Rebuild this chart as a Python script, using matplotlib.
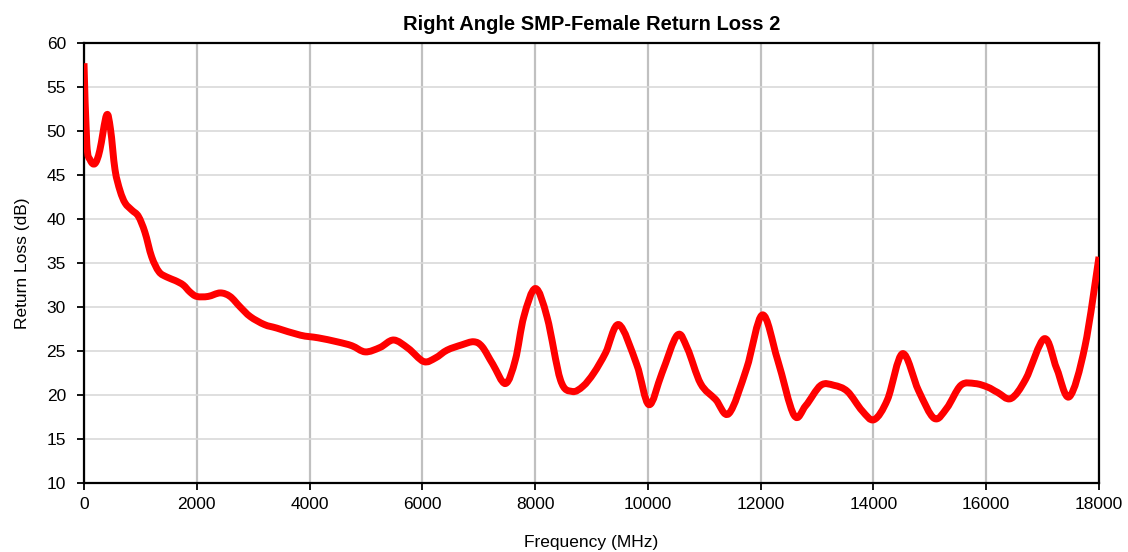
import matplotlib
matplotlib.use("Agg")
import matplotlib.pyplot as plt
from matplotlib.path import Path
from matplotlib.patches import PathPatch

plt.rcParams['font.family'] = ['Liberation Sans', 'DejaVu Sans']

title = "Right Angle SMP-Female Return Loss 2"
x_label = "Frequency (MHz)"
y_label = "Return Loss (dB)"

freq_mhz = [0, 50, 110, 195, 280, 400, 470, 550, 640, 730, 850,
            965, 1080, 1200, 1330, 1470, 1620, 1760, 1880, 2000, 2200, 2415, 2590, 2770,
            2950, 3200, 3420, 3835, 4150, 4486, 4750, 4988, 5250, 5491, 5750, 6024, 6230,
            6439, 6700, 6911, 7060, 7250, 7474, 7650, 7800, 8006, 8214,
            8450, 8657, 8850, 9041, 9250, 9485, 9800, 10018, 10250, 10521,
            10700, 10935, 11200, 11438, 11750, 12030, 12300,
            12592, 12800, 13066, 13300, 13540, 13800, 14012, 14250, 14516,
            14800, 15077, 15300, 15550, 15800, 16024, 16200, 16439, 16700, 17030,
            17250, 17474, 17750, 18000]
return_loss_db = [57.7, 48.5, 46.7, 46.3, 47.8, 51.8, 50.2,
                  45.6, 43.2, 41.8, 41.0, 40.3, 38.5, 35.7, 34.0, 33.4, 33.0, 32.5, 31.7,
                  31.2, 31.2, 31.6, 31.2, 30.0, 28.9, 28.0, 27.6, 26.8, 26.5, 26.05, 25.6,
                  24.9, 25.4, 26.25, 25.3, 23.8, 24.2, 25.1, 25.7, 26.05, 25.5, 23.5, 21.3,
                  24.0, 28.9, 32.1, 28.8, 21.7, 20.4, 21.0, 22.5, 24.8, 28.0,
                  23.5, 18.9, 22.5, 26.8, 25.3, 21.3, 19.5, 17.9, 23.0, 29.1, 24.0,
                  17.7, 18.8, 21.1, 21.1, 20.4, 18.2, 17.2, 19.5, 24.7, 20.5, 17.35,
                  18.5, 21.1, 21.3, 20.9, 20.3, 19.6, 21.8, 26.4, 23.0, 19.8, 25.5, 35.7]

x_ticks = list(range(0, 18001, 2000))
y_ticks = list(range(10, 61, 5))


def smooth_path(xs, ys, tension=1.0 / 6.0):
    """Excel-style smoothed line: cubic Bezier segments through the data points."""
    n = len(xs)
    verts = [(xs[0], ys[0])]
    codes = [Path.MOVETO]
    for i in range(n - 1):
        x0, y0 = (xs[i - 1], ys[i - 1]) if i > 0 else (xs[i], ys[i])
        x1, y1 = xs[i], ys[i]
        x2, y2 = xs[i + 1], ys[i + 1]
        x3, y3 = (xs[i + 2], ys[i + 2]) if i + 2 < n else (x2, y2)
        c1 = (x1 + (x2 - x0) * tension, y1 + (y2 - y0) * tension)
        c2 = (x2 - (x3 - x1) * tension, y2 - (y3 - y1) * tension)
        verts += [c1, c2, (x2, y2)]
        codes += [Path.CURVE4, Path.CURVE4, Path.CURVE4]
    return Path(verts, codes)


fig = plt.figure(figsize=(11.28, 5.52), dpi=100)
ax = fig.add_axes([84 / 1128, 1 - 483 / 552, (1099 - 84) / 1128, (483 - 43) / 552])

patch = PathPatch(smooth_path(freq_mhz, return_loss_db), facecolor='none',
                  edgecolor='#ff0000', linewidth=5.0, joinstyle='round',
                  capstyle='butt', zorder=3)
ax.add_patch(patch)

ax.set_xlim(0, 18000)
ax.set_ylim(10, 60)
ax.set_xticks(x_ticks)
ax.set_yticks(y_ticks)
ax.set_xticklabels([str(t) for t in x_ticks])
ax.set_yticklabels([str(t) for t in y_ticks])

ax.xaxis.grid(True, color='#c0c0c0', linewidth=1.6, zorder=0)
ax.yaxis.grid(True, color='#d9d9d9', linewidth=1.2, zorder=0)
ax.set_axisbelow(True)

for s in ax.spines.values():
    s.set_linewidth(1.6)
    s.set_color('black')

ax.tick_params(axis='both', direction='out', length=5, width=1.3, labelsize=12.5, colors='black')
ax.tick_params(axis='y', pad=8)
ax.tick_params(axis='x', pad=5)

ax.set_title(title, fontsize=14.5, fontweight='bold', pad=9)
ax.set_xlabel(x_label, fontsize=12.5, labelpad=17)
ax.set_ylabel(y_label, fontsize=12.5, labelpad=12)

fig.savefig("out.png", dpi=100)
